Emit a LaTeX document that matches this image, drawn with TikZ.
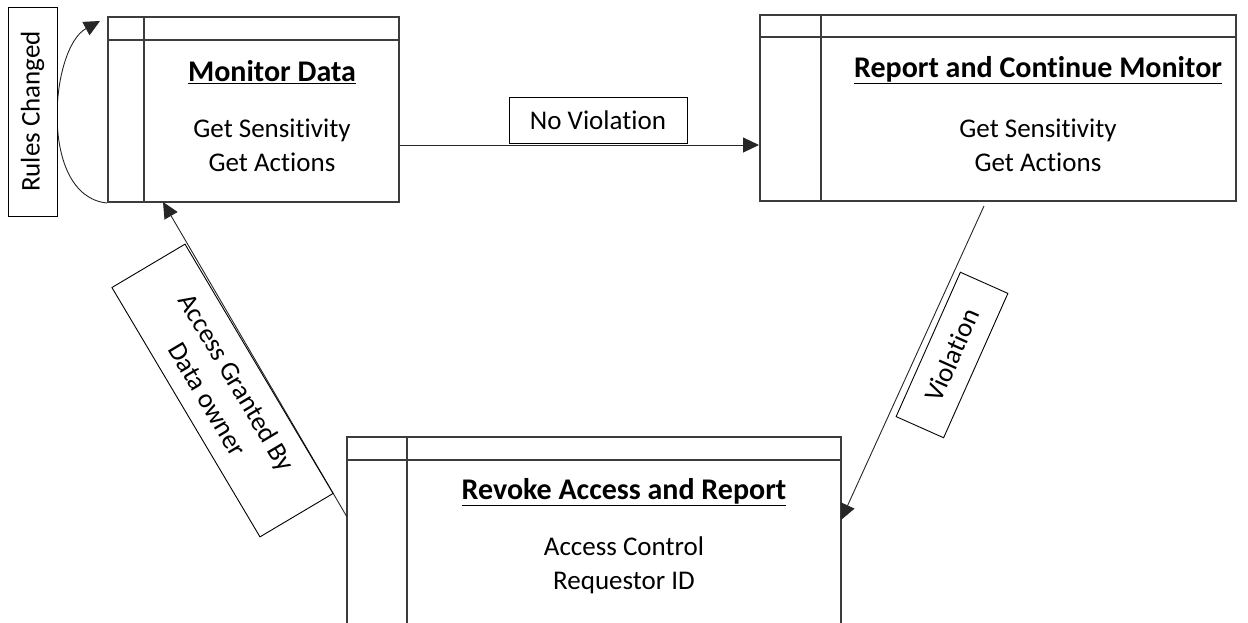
\documentclass[tikz,border=0pt]{standalone}
\usepackage{fontspec}
\setmainfont{Carlito}[Ligatures=NoCommon]
\usetikzlibrary{arrows.meta,calc}
\definecolor{edge}{HTML}{3C3C3C}
\tikzset{
  procbox/.style={draw=edge, line width=2pt, inner sep=0pt, fill=white},
  divider/.style={draw=edge, line width=2pt},
  flow/.style={draw=black!85, line width=0.9pt, -{Triangle[length=16pt,width=15pt]}},
  tag/.style={draw=black, line width=0.9pt, fill=white, inner sep=0pt, align=center,
              font=\fontsize{27}{34}\selectfont},
  heading/.style={inner sep=0pt, font=\fontsize{30}{36}\selectfont\bfseries},
  body/.style={inner sep=0pt, align=center, font=\fontsize{27}{34}\selectfont},
}
\begin{document}
\begin{tikzpicture}[x=1pt,y=-1pt]
\useasboundingbox (0,0) rectangle (1248,622);
\clip (0,0) rectangle (1248,622);

% process boxes
\node[procbox, minimum width=291pt, minimum height=185pt] (mon) at (253.5,109.5) {};
\node[procbox, minimum width=476pt, minimum height=186pt] (rep) at (998,108) {};
\node[procbox, minimum width=494pt, minimum height=263pt] (rev) at (594,568.5) {};

% header strip and side column of each box
\draw[divider] ($(mon.north west)+(0,24)$) -- ($(mon.north east)+(0,24)$);
\draw[divider] ($(mon.north west)+(37,0)$) -- ($(mon.south west)+(37,0)$);
\draw[divider] ($(rep.north west)+(0,23)$) -- ($(rep.north east)+(0,23)$);
\draw[divider] ($(rep.north west)+(62,0)$) -- ($(rep.south west)+(62,0)$);
\draw[divider] ($(rev.north west)+(0,24)$) -- ($(rev.north east)+(0,24)$);
\draw[divider] ($(rev.north west)+(61,0)$) -- ($(rev.south west)+(61,0)$);

% box contents
\node[heading] (monT) at (272,72) {\underline{Monitor Data}};
\node[body] (monB) at (272,145) {Get Sensitivity\\Get Actions};
\node[heading] (repT) at (1038,70) {\underline{Report and Continue Monitor}};
\node[body] (repB) at (1038,145) {Get Sensitivity\\Get Actions};
\node[heading] (revT) at (624,492) {\underline{Revoke Access and Report}};
\node[body] (revB) at (624,565) {Access Control\\Requestor ID};

% connector end points
\coordinate (rcTip) at ($(mon.north west)+(-7,5)$);
\coordinate (agTip) at (163,202);
\coordinate (agStart) at (347,517);
\coordinate (vStart) at (984,206);
\coordinate (vTip) at (841,520);

% connectors
\draw[flow] (mon.south west) .. controls (38,196) and (50,48) .. (rcTip);
\draw[flow] (mon.east |- 0,145) -- (rep.west |- 0,145);
\draw[flow] (agStart) -- (agTip);
\draw[flow] (vStart) -- (vTip);

% connector labels
\node[tag, rotate=90, minimum width=209pt, minimum height=49pt] (rcLbl) at (32.5,111.5) {Rules Changed};
\node[tag, minimum width=178pt, minimum height=46pt] (nvLbl) at (598,120) {No Violation};
\node[tag, rotate=-59.3, minimum width=290pt, minimum height=85pt] (agLbl) at (222.5,390.5) {Access Granted By\\Data owner};
\node[tag, rotate=66, minimum width=158pt, minimum height=52pt] (vLbl) at (952,355) {Violation};
\end{tikzpicture}
\end{document}
